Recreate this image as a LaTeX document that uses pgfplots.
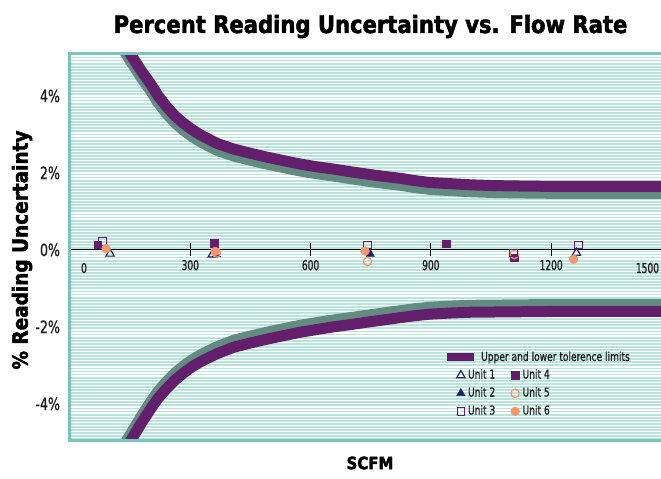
\documentclass[border=0pt]{standalone}
\usepackage{pgfplots}
\pgfplotsset{compat=1.18}
\usepackage{fontspec}
\setmainfont{DejaVu Sans}[FakeStretch=0.75]
\newfontfamily\headfont{DejaVu Sans}[FakeStretch=0.88,FakeBold=2]
\newfontfamily\narrowfont{DejaVu Sans}[FakeStretch=0.66,FakeBold=0.8]
\newfontfamily\tickfont{DejaVu Sans}[FakeStretch=0.74,FakeBold=0.8]
\definecolor{bgteal}{RGB}{186,228,219}
\definecolor{frameteal}{RGB}{122,198,188}
\definecolor{tolpurple}{RGB}{99,30,108}
\definecolor{tolshadow}{RGB}{98,140,130}
\definecolor{navy}{RGB}{28,36,110}
\definecolor{peach}{RGB}{246,150,108}
\definecolor{txt}{RGB}{30,30,30}
\begin{document}
\begin{tikzpicture}
\begin{axis}[
  name=main,
  at={(0pt,0pt)}, anchor=south west,
  scale only axis, width=591pt, height=386pt,
  xmin=0, xmax=1474, ymin=-4.94, ymax=5.09,
  axis x line=middle, axis y line=left,
  x axis line style={-, black, line width=1.1pt},
  y axis line style={-, frameteal, line width=3pt},
  hide obscured x ticks=false, hide obscured y ticks=false,
  axis background/.style={fill=bgteal},
  xtick={300,600,900,1200},
  xticklabels={300,600,900,1200},
  xtick align=center,
  major tick length=13pt,
  minor tick length=0pt,
  xtick style={black, line width=1.1pt},
  ytick style={draw=none},
  xticklabel style={font=\narrowfont\fontsize{13.7}{16}\selectfont, text=txt},
  ytick={-4,-2,0,2,4},
  yticklabels={-4\%,-2\%,0\%,2\%,4\%},
  yticklabel style={font=\tickfont\fontsize{17}{20}\selectfont, text=txt},
  minor ytick={-4.96,-4.88,...,5.1},
  ymajorgrids, yminorgrids,
  major grid style={white, line width=1.25pt},
  minor grid style={white, line width=1.25pt},
  legend style={at={(0.631,0.215)}, anchor=west, draw=none, fill=none, inner sep=0pt,
     font=\tickfont\fontsize{12.3}{14}\selectfont, text=txt, nodes={inner xsep=3pt, inner ysep=1pt}},
]
\addplot[tolshadow, line width=11pt, line join=round, forget plot] coordinates {
(120,5.42) (135,5.17) (155,4.84) (178,4.47) (200,4.15) (220,3.82) (241,3.54) (262,3.30)
(283,3.11) (304,2.95) (325,2.81) (366,2.59) (408,2.44) (450,2.33) (491,2.23) (532,2.14)
(574,2.05) (615,1.98) (657,1.92) (700,1.85) (740,1.79) (782,1.73) (824,1.68) (860,1.62)
(898,1.57) (950,1.54) (1000,1.51) (1060,1.49) (1120,1.48) (1200,1.47) (1300,1.47) (1480,1.47)};
\addplot[tolshadow, line width=11pt, line join=round, forget plot] coordinates {
(120,-5.32) (135,-5.07) (155,-4.72) (178,-4.32) (200,-3.97) (220,-3.67) (241,-3.42) (262,-3.20)
(283,-3.02) (304,-2.86) (325,-2.73) (366,-2.52) (408,-2.35) (450,-2.24) (491,-2.14) (532,-2.05)
(574,-1.96) (615,-1.89) (657,-1.82) (700,-1.76) (740,-1.70) (782,-1.64) (824,-1.58) (860,-1.53)
(898,-1.49) (950,-1.46) (1000,-1.44) (1100,-1.43) (1200,-1.42) (1480,-1.42)};
\addplot[tolpurple, line width=11pt, line join=round,
  legend image code/.code={\draw[tolpurple, line width=8pt] (0pt,0pt) -- (27pt,0pt);}] coordinates {
(120,5.60) (135,5.35) (155,5.02) (178,4.65) (200,4.33) (220,4.00) (241,3.72) (262,3.48)
(283,3.29) (304,3.13) (325,2.99) (366,2.77) (408,2.62) (450,2.51) (491,2.41) (532,2.32)
(574,2.23) (615,2.16) (657,2.10) (700,2.03) (740,1.97) (782,1.91) (824,1.86) (860,1.80)
(898,1.75) (950,1.72) (1000,1.69) (1060,1.67) (1120,1.66) (1200,1.65) (1300,1.65) (1480,1.65)};
\addlegendentry{Upper and lower tolerence limits}
\addplot[tolpurple, line width=11pt, line join=round, forget plot] coordinates {
(120,-5.50) (135,-5.25) (155,-4.90) (178,-4.50) (200,-4.15) (220,-3.85) (241,-3.60) (262,-3.38)
(283,-3.20) (304,-3.04) (325,-2.91) (366,-2.70) (408,-2.53) (450,-2.42) (491,-2.32) (532,-2.23)
(574,-2.14) (615,-2.07) (657,-2.00) (700,-1.94) (740,-1.88) (782,-1.82) (824,-1.76) (860,-1.71)
(898,-1.67) (950,-1.64) (1000,-1.62) (1100,-1.61) (1200,-1.60) (1480,-1.60)};
\end{axis}
\begin{axis}[
  at={(0pt,0pt)}, anchor=south west,
  scale only axis, width=591pt, height=386pt,
  xmin=0, xmax=1474, ymin=-4.94, ymax=5.09,
  hide axis,
  legend columns=2,
  legend style={at={(0.654,0.187)}, anchor=north west, draw=none, fill=none, inner sep=0pt,
    font=\tickfont\fontsize{12.3}{14}\selectfont, text=txt, row sep=3.5pt,
    nodes={inner xsep=3pt, inner ysep=1.5pt, text height=9pt, text depth=2.5pt},
    /tikz/every even column/.append style={column sep=12.5pt}},
]
\addplot[only marks, mark=triangle, mark size=4.8pt, mark options={draw=navy, line width=1.2pt}] coordinates {(100,-0.10) (355,-0.12) (1263,-0.08)};
\addlegendentry{Unit 1}
\addplot[only marks, mark=square*, mark size=3.8pt, mark options={draw=tolpurple, fill=tolpurple}] coordinates {(69,0.13) (360,0.17) (938,0.16) (1108,-0.20)};
\addlegendentry{Unit 4}
\addplot[only marks, mark=triangle*, mark size=4.8pt, mark options={draw=navy, fill=navy}] coordinates {(365,-0.12) (749,-0.11)};
\addlegendentry{Unit 2}
\addplot[only marks, mark=o, mark size=4.2pt, mark options={draw=peach, line width=1.2pt}] coordinates {(365,-0.08) (742,-0.30) (1108,-0.12)};
\addlegendentry{Unit 5}
\addplot[only marks, mark=square, mark size=3.8pt, mark options={draw=tolpurple, line width=1.1pt}] coordinates {(81,0.22) (742,0.13) (1106,-0.08) (1268,0.13)};
\addlegendentry{Unit 3}
\addplot[only marks, mark=*, mark size=4.4pt, mark options={draw=peach, fill=peach}] coordinates {(90,0.03) (362,-0.04) (736,-0.03) (1256,-0.24)};
\addlegendentry{Unit 6}
\end{axis}
\node[font=\headfont\bfseries\fontsize{24}{28}\selectfont, anchor=base] at (300.5pt,407pt) {Percent Reading Uncertainty vs. Flow Rate};
\node[font=\headfont\bfseries\fontsize{21}{24}\selectfont, rotate=90] at (-48pt,190pt) {\% Reading Uncertainty};
\node[font=\headfont\bfseries\fontsize{17}{20}\selectfont] at (300pt,-23pt) {SCFM};
\node[font=\narrowfont\fontsize{13.7}{16}\selectfont, text=txt] at (14pt,172pt) {0};
\node[font=\narrowfont\fontsize{13.7}{16}\selectfont, text=txt] at (577.5pt,172pt) {1500};
\draw[frameteal, line width=3pt] (-1.5pt,386pt) -- (600pt,386pt);
\draw[frameteal, line width=3pt] (-1.5pt,0pt) -- (600pt,0pt);
\pgfresetboundingbox
\useasboundingbox (-70pt,-39pt) rectangle (591pt,440pt);
\end{tikzpicture}
\end{document}
